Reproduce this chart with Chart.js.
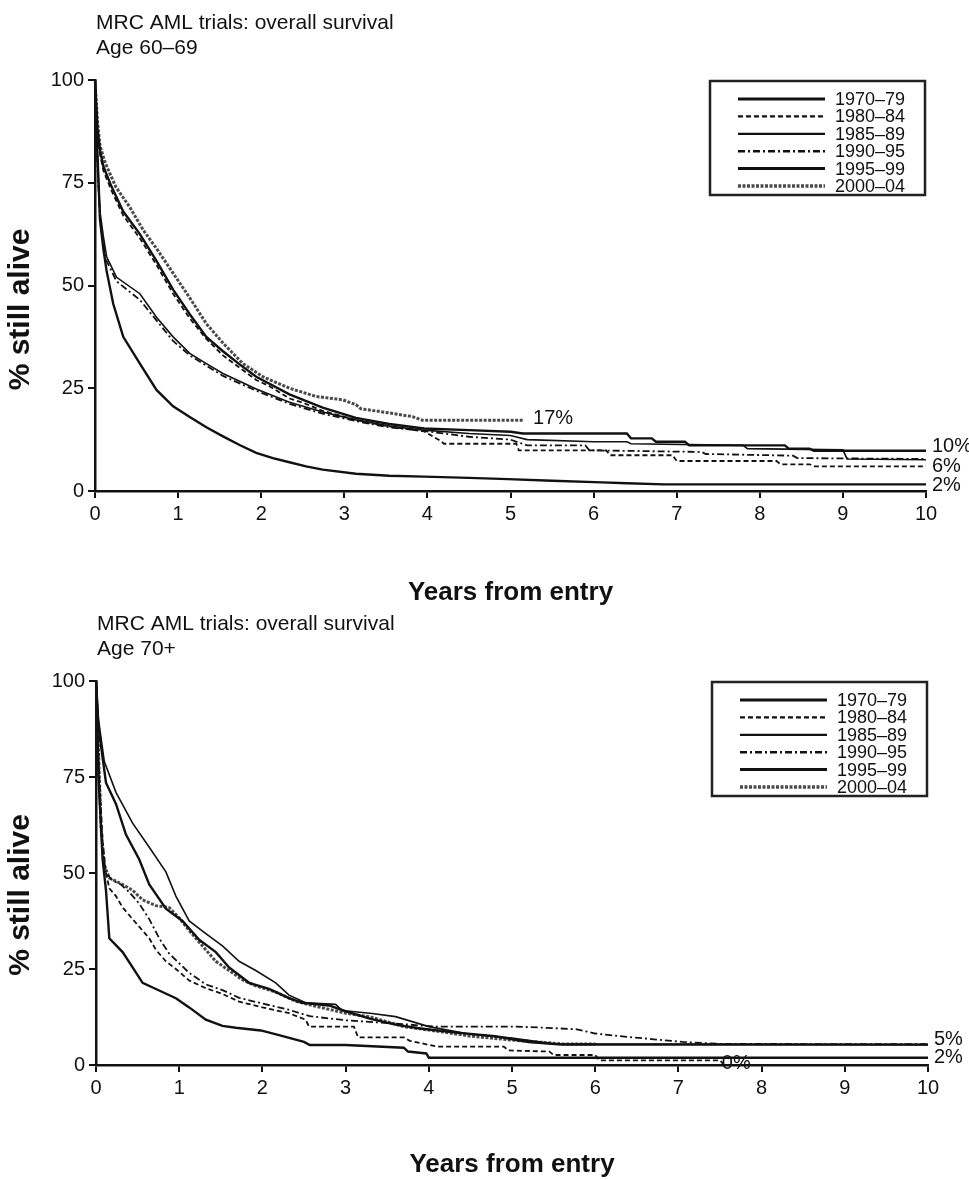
<!DOCTYPE html>
<html><head><meta charset="utf-8">
<script src="https://cdn.jsdelivr.net/npm/chart.js@4.4.1/dist/chart.umd.min.js"></script>
<style>
html,body{margin:0;padding:0;background:#fff;width:969px;height:1180px;overflow:hidden;}
canvas{position:absolute;left:0;}
#c1{top:0;} #c2{top:600px;}
</style></head><body>
<canvas id="c1" width="969" height="610"></canvas>
<canvas id="c2" width="969" height="580"></canvas>
<script>
// ---------- tick labels / categories ----------
const yearTicks = [0,1,2,3,4,5,6,7,8,9,10];
const survivalTicks = [0,25,50,75,100];
const periods = ['1970–79','1980–84','1985–89','1990–95','1995–99','2000–04'];

// ---------- Age 60–69 : [years, % alive] ----------
const a60_1970 = [[0,100],[0.03,82],[0.06,66],[0.1,59],[0.14,53.5],[0.22,45.5],[0.34,37.5],[0.54,31],[0.74,24.6],[0.94,20.6],[1.14,18],[1.34,15.5],[1.54,13.3],[1.74,11.2],[1.94,9.3],[2.14,8],[2.34,7],[2.54,6],[2.74,5.2],[3.14,4.2],[3.54,3.7],[3.96,3.5],[4.5,3.2],[4.97,2.9],[5.5,2.5],[6.1,2.1],[6.4,1.9],[6.85,1.6],[10,1.6]];
const a60_1980 = [[0,100],[0.03,87],[0.06,82],[0.1,78],[0.2,73],[0.34,67],[0.54,61.5],[0.74,55],[0.94,48],[1.14,42],[1.34,37],[1.54,33],[1.74,30],[1.94,27],[2.1,25.5],[2.34,22.5],[2.5,21.5],[2.74,19.5],[3.14,17.3],[3.54,15.7],[3.96,14.5],[4.15,12.3],[4.2,11.5],[5.07,11.5],[5.1,9.9],[6.15,9.9],[6.2,8.7],[6.95,8.7],[7.0,7.3],[8.2,7.3],[8.25,6.5],[8.6,6.5],[8.65,6.0],[10,6.0]];
const a60_1985 = [[0,100],[0.03,80],[0.06,68],[0.1,62],[0.14,57],[0.26,52],[0.54,48],[0.74,42.3],[0.94,37.5],[1.14,33.5],[1.34,31],[1.54,28.6],[1.94,24.8],[2.34,21.6],[2.74,19.2],[3.14,17.3],[3.54,15.8],[3.96,14.8],[4.5,14],[5.0,13.5],[5.2,12.5],[6.0,12],[6.4,12],[6.45,11.5],[7.8,11.1],[7.85,10.3],[9.0,10],[9.05,7.8],[10,7.6]];
const a60_1990 = [[0,100],[0.03,79],[0.06,66],[0.1,60],[0.14,56],[0.26,51],[0.54,46.5],[0.74,41.5],[0.94,36.5],[1.14,33],[1.34,30.5],[1.54,28],[1.94,24.4],[2.34,21.2],[2.74,18.8],[3.14,17],[3.54,15.5],[3.96,14.6],[4.5,13.2],[5.0,12.5],[5.2,11.1],[5.9,11.1],[5.95,9.9],[7.3,9.5],[7.35,9.0],[8.4,8.6],[8.45,8.0],[10,7.8]];
const a60_1995 = [[0,100],[0.03,88],[0.06,83],[0.1,79],[0.2,74],[0.34,68],[0.54,62.5],[0.74,56],[0.94,49],[1.14,43],[1.34,37.5],[1.54,34],[1.74,30.8],[1.94,27.8],[2.34,23.5],[2.74,20.3],[3.14,17.8],[3.54,16.3],[3.96,15.2],[4.5,14.8],[5.0,14.4],[5.15,14],[6.4,14],[6.45,12.8],[6.7,12.8],[6.75,12],[7.1,12],[7.15,11.1],[8.3,11.1],[8.35,10.3],[8.6,10.3],[8.65,9.8],[10,9.8]];
const a60_2000 = [[0,100],[0.03,90],[0.06,84],[0.12,80],[0.25,74],[0.42,69],[0.58,63.5],[0.74,59],[0.94,53],[1.14,47],[1.34,40.7],[1.54,36],[1.78,31],[2.02,27.8],[2.34,25],[2.66,23],[2.98,22.2],[3.14,21],[3.2,20],[3.54,19],[3.82,18.1],[3.94,17.2],[5.15,17.2]];
const a60_labelText = ['17%','10%','6%','2%'];
const a60_labelYear = [5.2,10,10,10];
const a60_labelPct  = [17.6,10.8,6.0,1.3];

// ---------- Age 70+ : [years, % alive] ----------
const a70_1970 = [[0,100],[0.03,75],[0.08,53.5],[0.12,45.5],[0.16,33],[0.32,29.4],[0.44,25.4],[0.56,21.4],[0.72,19.8],[0.96,17.4],[1.12,15],[1.32,11.8],[1.52,10.2],[1.68,9.7],[1.98,9],[2.2,7.8],[2.5,6],[2.57,5.2],[3.0,5.2],[3.7,4.5],[3.75,3.5],[3.97,3],[4.0,1.9],[10,1.9]];
const a70_1980 = [[0,100],[0.04,75],[0.08,58],[0.12,50],[0.16,46],[0.24,44],[0.32,41],[0.44,38],[0.52,36],[0.64,33],[0.72,30],[0.84,27],[0.96,25],[1.12,22],[1.32,20],[1.52,18.5],[1.72,16.5],[2.0,15],[2.32,13.5],[2.52,11.8],[2.56,10],[3.1,10],[3.15,7.2],[3.7,7.2],[3.77,6.3],[4.1,4.8],[4.9,4.8],[4.96,3.8],[5.45,3.5],[5.5,2.6],[6.0,2.6],[6.05,1.2],[7.5,1.2],[7.55,0]];
const a70_1985 = [[0,100],[0.03,90],[0.1,79],[0.24,71],[0.44,63],[0.64,56.7],[0.84,50.3],[0.96,44],[1.12,37.5],[1.32,34.2],[1.52,31],[1.72,27],[1.92,24.6],[2.16,21.4],[2.32,18.2],[2.52,16.2],[2.88,15.8],[2.96,14.2],[3.32,13.4],[3.6,12.6],[4.0,10],[4.5,8],[5.0,7],[5.5,5.5],[10,5.3]];
const a70_1990 = [[0,100],[0.04,70],[0.08,55],[0.12,50],[0.2,48],[0.3,47],[0.4,45],[0.52,42],[0.64,38],[0.76,33],[0.88,29],[1.0,26.5],[1.12,24],[1.32,21],[1.52,19.5],[1.72,17.5],[2.0,16],[2.3,14.5],[2.57,12.7],[3.02,11.6],[3.6,10.8],[4.07,10],[5.04,10],[5.4,9.7],[5.78,9.3],[6.0,8.2],[6.3,7.5],[6.7,6.7],[7.05,6],[7.5,5.5],[10,5.4]];
const a70_1995 = [[0,100],[0.03,88],[0.12,73.5],[0.24,68],[0.36,60],[0.52,53.5],[0.64,47],[0.84,40.7],[1.04,37.5],[1.24,32.6],[1.44,29.4],[1.6,25.4],[1.84,21.4],[2.08,19.8],[2.32,17.4],[2.48,16.2],[2.8,15.5],[3.0,14],[3.3,12],[3.6,10.5],[3.9,9.5],[4.3,8.5],[4.8,7.5],[5.2,6],[5.6,5.3],[10,5.3]];
const a70_2000 = [[0,100],[0.03,82],[0.06,62],[0.1,52],[0.16,48.7],[0.32,47],[0.44,45.5],[0.56,43],[0.72,41.5],[0.88,41],[1.0,38.3],[1.12,35],[1.28,31],[1.44,27],[1.6,24.6],[1.76,22.2],[1.92,20.6],[2.16,19],[2.4,16.6],[2.6,15.5],[3.0,13.5],[3.3,12.5],[3.7,10],[4.2,8.5],[4.5,7.5],[5.0,6.5],[5.6,5.5],[6.0,5.5]];
const a70_labelText = ['5%','2%','0%'];
const a70_labelYear = [10,10,7.45];
const a70_labelPct  = [6.6,1.9,0.4];

// ---------- styles (not data) ----------
const FONT = '"Liberation Sans", Arial, Helvetica, sans-serif';
const lineStyles = [
  {w:2.4, dash:[], c:'#111'},
  {w:1.8, dash:[5,3], c:'#111'},
  {w:1.6, dash:[], c:'#111'},
  {w:1.8, dash:[7,3,2,3], c:'#111'},
  {w:2.4, dash:[], c:'#111'},
  {w:3, dash:[3,1.5], c:'#4a4a4a'}
];

function makeDatasets(seriesList){
  return seriesList.map((arr,i)=>({
    label: periods[i],
    data: arr.map(p=>({x:p[0], y:p[1]})),
    borderColor: lineStyles[i].c,
    borderWidth: lineStyles[i].w,
    borderDash: lineStyles[i].dash,
    pointRadius: 0,
    tension: 0,
    fill: false
  }));
}

const decor = {
  id: 'decor',
  beforeDatasetsDraw(chart, args, o){
    const ctx = chart.ctx, sx = chart.scales.x, sy = chart.scales.y;
    ctx.save();
    ctx.fillStyle = '#111';
    ctx.font = '20px ' + FONT;
    ctx.textAlign = 'left';
    ctx.textBaseline = 'middle';
    o.labelText.forEach((t,i)=>{
      ctx.fillText(t, sx.getPixelForValue(o.labelYear[i]) + 6, sy.getPixelForValue(o.labelPct[i]));
    });
    ctx.restore();
  },
  afterDraw(chart, args, o){
    const ctx = chart.ctx, a = chart.chartArea;
    ctx.save();
    ctx.fillStyle = '#111';
    ctx.font = '21px ' + FONT;
    ctx.textAlign = 'left';
    ctx.textBaseline = 'alphabetic';
    ctx.fillText(o.title[0], a.left + 1, a.top - 51);
    ctx.fillText(o.title[1], a.left + 1, a.top - 26);
    // y-axis title
    ctx.save();
    ctx.translate(21, (a.top + a.bottom) / 2 + o.yShift);
    ctx.rotate(-Math.PI / 2);
    ctx.font = 'bold 30px ' + FONT;
    ctx.textAlign = 'center';
    ctx.textBaseline = 'middle';
    ctx.fillText('% still alive', 0, 0);
    ctx.restore();
    // legend box
    const W = 215, H = 114, L = a.right - W - 1, T = a.top + 1;
    ctx.fillStyle = '#fff';
    ctx.fillRect(L, T, W, H);
    ctx.lineWidth = 2.5;
    ctx.strokeStyle = '#222';
    ctx.strokeRect(L, T, W, H);
    chart.data.datasets.forEach((d,i)=>{
      const y = T + 18 + i * 17.4;
      ctx.beginPath();
      ctx.setLineDash(d.borderDash || []);
      ctx.lineWidth = d.borderWidth + 0.6;
      ctx.strokeStyle = d.borderColor;
      ctx.moveTo(L + 28, y);
      ctx.lineTo(L + 115, y);
      ctx.stroke();
      ctx.setLineDash([]);
      ctx.fillStyle = '#111';
      ctx.font = '18px ' + FONT;
      ctx.textAlign = 'left';
      ctx.textBaseline = 'middle';
      ctx.fillText(d.label, L + 125, y + 1);
    });
    ctx.restore();
  }
};

function makeChart(id, seriesList, cfg){
  return new Chart(document.getElementById(id), {
    type: 'line',
    data: { datasets: makeDatasets(seriesList) },
    plugins: [decor],
    options: {
      responsive: false,
      animation: false,
      events: [],
      layout: { padding: { left: 0, right: cfg.padRight, top: cfg.padTop, bottom: 0 } },
      plugins: {
        legend: { display: false },
        title: { display: false },
        tooltip: { enabled: false },
        decor: {
          title: cfg.title, yShift: cfg.yShift,
          labelText: cfg.labelText, labelYear: cfg.labelYear, labelPct: cfg.labelPct
        }
      },
      scales: {
        x: {
          type: 'linear', min: yearTicks[0], max: yearTicks[yearTicks.length-1],
          afterBuildTicks: s => { s.ticks = yearTicks.map(v=>({value:v})); },
          afterFit: s => { s.height = cfg.xAxisH; },
          ticks: { color: '#111', font: { size: 20, family: FONT }, padding: 4, maxRotation: 0, autoSkip: false },
          grid: { drawOnChartArea: false, drawTicks: true, tickLength: 7, color: '#111', lineWidth: 2 },
          border: { display: true, color: '#111', width: 2.5 },
          title: { display: true, text: 'Years from entry', color: '#111',
                   font: { size: 26, weight: 'bold', family: FONT }, padding: { top: 0, bottom: cfg.xTitlePad } }
        },
        y: {
          min: survivalTicks[0], max: survivalTicks[survivalTicks.length-1],
          afterBuildTicks: s => { s.ticks = survivalTicks.map(v=>({value:v})); },
          afterFit: s => { s.width = cfg.yAxisW; },
          ticks: { color: '#111', font: { size: 20, family: FONT }, padding: 4 },
          grid: { drawOnChartArea: false, drawTicks: true, tickLength: 7, color: '#111', lineWidth: 2 },
          border: { display: true, color: '#111', width: 2.5 },
          title: { display: false }
        }
      }
    }
  });
}

makeChart('c1', [a60_1970,a60_1980,a60_1985,a60_1990,a60_1995,a60_2000], {
  title: ['MRC AML trials: overall survival','Age 60–69'],
  padRight: 43, padTop: 80, xAxisH: 119, yAxisW: 95, xTitlePad: 2, yShift: 24,
  labelText: a60_labelText, labelYear: a60_labelYear, labelPct: a60_labelPct
});
makeChart('c2', [a70_1970,a70_1980,a70_1985,a70_1990,a70_1995,a70_2000], {
  title: ['MRC AML trials: overall survival','Age 70+'],
  padRight: 41, padTop: 81, xAxisH: 115, yAxisW: 96, xTitlePad: 0, yShift: 22,
  labelText: a70_labelText, labelYear: a70_labelYear, labelPct: a70_labelPct
});
</script>
</body></html>
